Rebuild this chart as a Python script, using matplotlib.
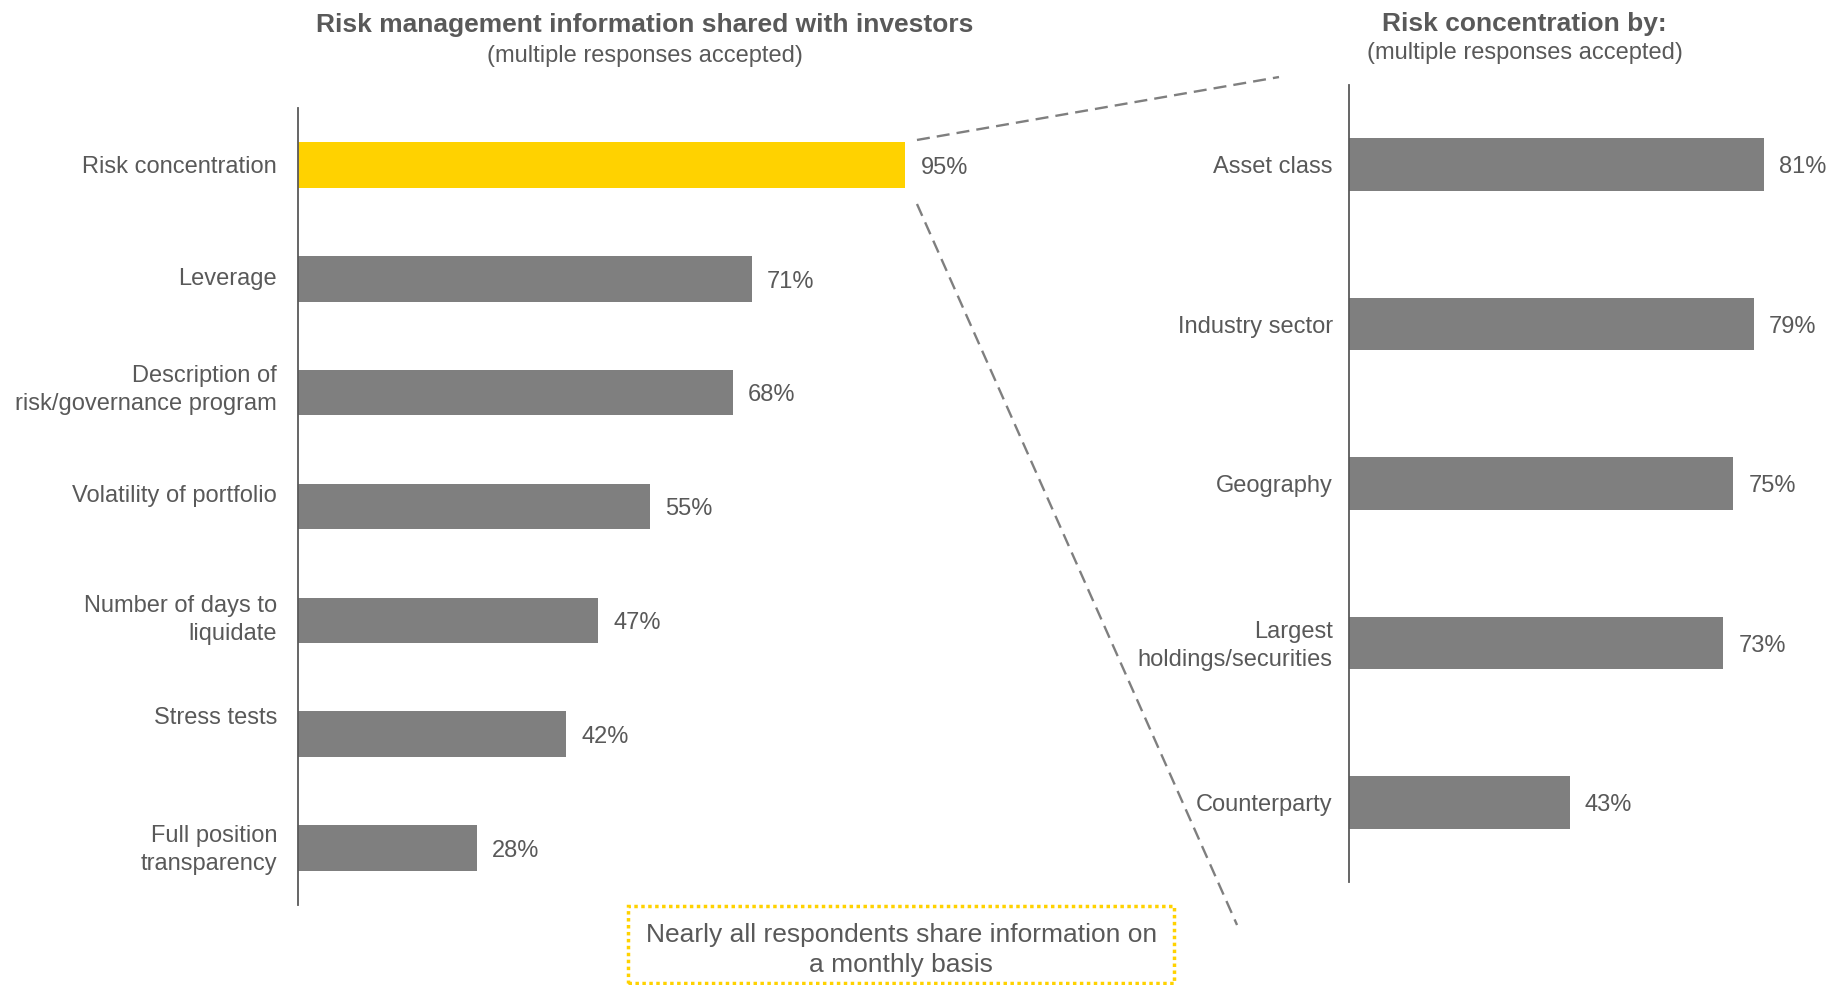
import matplotlib
matplotlib.use("Agg")
import matplotlib.pyplot as plt
from matplotlib.lines import Line2D
from matplotlib.patches import Rectangle
from matplotlib.transforms import ScaledTranslation

plt.rcParams['font.family'] = ['Liberation Sans', 'DejaVu Sans']

left_categories = ["Risk concentration", "Leverage", "Description of\nrisk/governance program",
                   "Volatility of portfolio", "Number of days to\nliquidate", "Stress tests",
                   "Full position\ntransparency"]
left_values = [95, 71, 68, 55, 47, 42, 28]
right_categories = ["Asset class", "Industry sector", "Geography",
                    "Largest\nholdings/securities", "Counterparty"]
right_values = [81, 79, 75, 73, 43]
left_title = "Risk management information shared with investors"
right_title = "Risk concentration by:"
subtitle = "(multiple responses accepted)"
note = "Nearly all respondents share information on\na monthly basis"

TXT = "#595959"
GRAY = "#7f7f7f"
YELLOW = "#ffd200"
FS = 17

fig = plt.figure(figsize=(18.48, 9.85), dpi=100)

def style(ax, n, pad):
    ax.set_ylim(n - 0.5, -0.5)
    for s in ["top", "right", "bottom"]:
        ax.spines[s].set_visible(False)
    ax.spines["left"].set_color(TXT)
    ax.spines["left"].set_linewidth(1.3)
    ax.set_xticks([])
    ax.tick_params(axis="y", length=0, pad=pad, labelsize=FS, labelcolor=TXT)

def value_labels(ax, bars, values):
    for b, v in zip(bars, values):
        ax.annotate(f"{v}%", (b.get_width(), b.get_y() + b.get_height() / 2),
                    xytext=(11, -2), textcoords="offset points", va="center", ha="left",
                    fontsize=FS, color=TXT)

def shift_labels(ax, shifts):
    for lab, dy in zip(ax.get_yticklabels(), shifts):
        lab.set_transform(lab.get_transform() + ScaledTranslation(0, dy / 72, fig.dpi_scale_trans))

# Left panel
axL = fig.add_axes([0.1613, 0.0812, 0.3458, 0.8092])
colorsL = [YELLOW] + [GRAY] * (len(left_values) - 1)
barsL = axL.barh(range(len(left_values)), left_values, height=0.40, color=colorsL)
axL.set_xlim(0, 100)
style(axL, len(left_values), 15)
axL.set_yticks(range(len(left_categories)))
axL.set_yticklabels(left_categories, linespacing=1.33)
value_labels(axL, barsL, left_values)
# small vertical label offsets seen in the reference (points)
shift_labels(axL, [0, 1.5, 5.5, 9.5, 4, 13.5, 2.5])

# Right panel
axR = fig.add_axes([0.7302, 0.1046, 0.2494, 0.8091])
barsR = axR.barh(range(len(right_values)), right_values, height=0.33, color=GRAY)
axR.set_xlim(0, 90)
style(axR, len(right_values), 12)
axR.set_yticks(range(len(right_categories)))
axR.set_yticklabels(right_categories, linespacing=1.33)
value_labels(axR, barsR, right_values)
shift_labels(axR, [0, 0, 0, 1.5, 0])

# Titles
fig.text(0.349, 0.9745, left_title, ha="center", va="center", fontsize=19,
         fontweight="bold", color=TXT)
fig.text(0.349, 0.9435, subtitle, ha="center", va="center", fontsize=FS, color=TXT)
fig.text(0.825, 0.9755, right_title, ha="center", va="center", fontsize=19,
         fontweight="bold", color=TXT)
fig.text(0.825, 0.946, subtitle, ha="center", va="center", fontsize=FS, color=TXT)

# Connector dashed lines
dash = (0, (5.5, 3.0))
fig.add_artist(Line2D([0.4962, 0.6921], [0.8579, 0.9218], transform=fig.transFigure,
                      color=GRAY, lw=1.7, linestyle=dash))
fig.add_artist(Line2D([0.4962, 0.6694], [0.7929, 0.0609], transform=fig.transFigure,
                      color=GRAY, lw=1.7, linestyle=dash))

# Note box
fig.add_artist(Rectangle((0.3398, 0.002), 0.2955, 0.078, transform=fig.transFigure,
                         fill=False, edgecolor=YELLOW, lw=2.5, linestyle=(0, (1, 1))))
fig.text(0.4876, 0.0355, note, ha="center", va="center", fontsize=19, color=TXT,
         linespacing=1.3)

fig.savefig("out.png", dpi=100)
